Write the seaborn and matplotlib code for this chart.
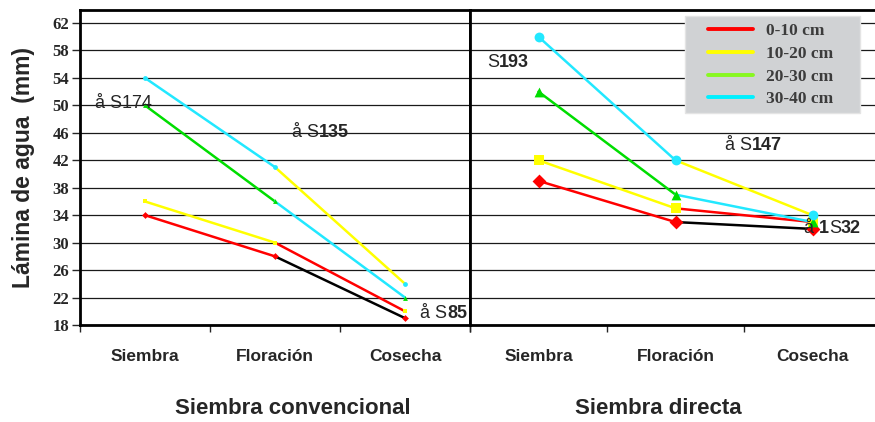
import matplotlib
matplotlib.use("Agg")
import matplotlib.pyplot as plt
from matplotlib.lines import Line2D
from matplotlib.patches import Rectangle
import pandas as pd
import seaborn as sns

stages = ["Siembra", "Floración", "Cosecha"]
depths = ["0-10 cm", "10-20 cm", "20-30 cm", "30-40 cm"]
panels = ["Siembra convencional", "Siembra directa"]

# lámina de agua (mm) por profundidad
conv_0_10 = [34, 28, 19]
conv_10_20 = [36, 30, 20]
conv_20_30 = [50, 36, 22]
conv_30_40 = [54, 41, 24]

dir_0_10 = [39, 33, 32]
dir_10_20 = [42, 35, 33]
dir_20_30 = [52, 37, 33]
dir_30_40 = [60, 42, 34]

sns.set_style("white")
plt.rcParams["font.family"] = ["Liberation Sans", "DejaVu Sans"]

seg1_colors = ["#ff0000", "#ffff00", "#00dd00", "#22e8ff"]
seg2_colors = ["#000000", "#ff0000", "#22e8ff", "#ffff00"]
legend_colors = ["#ff0000", "#ffff00", "#88f820", "#00f0ff"]
markers = ["D", "s", "^", "o"]

series = {
    panels[0]: [conv_0_10, conv_10_20, conv_20_30, conv_30_40],
    panels[1]: [dir_0_10, dir_10_20, dir_20_30, dir_30_40],
}

rows = []
for panel, vals in series.items():
    for d, v in zip(depths, vals):
        for i in range(3):
            if i < 2:
                rows.append((panel, d + " a", i, v[i]))
            if i > 0:
                rows.append((panel, d + " b", i, v[i]))
df = pd.DataFrame(rows, columns=["panel", "seg", "pos", "value"])

palette = {}
for k, d in enumerate(depths):
    palette[d + " a"] = seg1_colors[k]
    palette[d + " b"] = seg2_colors[k]

fig = plt.figure(figsize=(8.75, 4.22), dpi=100)
W, H = 875, 422
bottom = 1 - 325 / H
height = (325 - 10) / H
ax1 = fig.add_axes([80 / W, bottom, 390 / W, height])
ax2 = fig.add_axes([470 / W, bottom, 411 / W, height])

for ax, panel, msize in [(ax1, panels[0], 12), (ax2, panels[1], 50)]:
    sub = df[df.panel == panel]
    sns.lineplot(data=sub, x="pos", y="value", hue="seg", palette=palette,
                 estimator=None, sort=False, legend=False, lw=1.8, ax=ax, zorder=3)
    for k, v in enumerate(series[panel]):
        sns.scatterplot(x=[0, 1, 2], y=v, marker=markers[k], color=seg1_colors[k],
                        s=msize, linewidth=0, ax=ax, zorder=4, legend=False)
    ax.set_xlim(-0.5, 2.5)
    ax.set_ylim(18, 63.9)
    ax.set_yticks(range(18, 63, 4))
    ax.set_xticks([-0.5, 0.5, 1.5, 2.5], labels=[""] * 4)
    ax.set_xticks([0, 1, 2], labels=stages, minor=True)
    ax.tick_params(axis="x", which="major", length=5, width=1, direction="out", bottom=True)
    ax.tick_params(axis="x", which="minor", length=0, pad=17)
    for lab in ax.get_xticklabels(minor=True):
        lab.set_fontweight("bold")
        lab.set_fontsize(12.5)
    ax.grid(axis="y", color="#1a1a1a", lw=0.9)
    ax.set_axisbelow(True)
    for sp in ax.spines.values():
        sp.set_linewidth(2)
        sp.set_color("black")
    ax.set_xlabel("")
    ax.set_ylabel("")

ax1.tick_params(axis="y", length=6, width=1, direction="out", left=True, pad=2)
for lab in ax1.get_yticklabels():
    lab.set_family("Liberation Serif")
    lab.set_fontweight("bold")
    lab.set_fontsize(12)
ax2.tick_params(axis="y", left=False, labelleft=False)
ax1.set_ylabel("Lámina de agua  (mm)", fontsize=16.5, fontweight="bold", labelpad=12)


def label(ax, x, y, parts):
    prev = None
    for txt, bold in parts:
        kw = dict(fontsize=13, fontweight="bold" if bold else "normal", zorder=6)
        if prev is None:
            prev = ax.text(x, y, txt, va="center", ha="left", **kw)
        else:
            prev = ax.annotate(txt, xy=(1, 0), xycoords=prev, va="bottom", ha="left", **kw)


label(ax1, -0.385, 50.3, [("å S174", False)])
label(ax1, 1.131, 46.1, [("å S", False), ("135", True)])
label(ax1, 2.115, 19.7, [("å S", False), ("85", True)])
label(ax2, -0.376, 56.2, [("S", False), ("193", True)])
label(ax2, 1.358, 44.1, [("å S", False), ("147", True)])
label(ax2, 1.938, 32.0, [("å ", False), ("1", True), ("S", False), ("32", True)])

# legend box
fig.patches.append(Rectangle((685 / W, 1 - 113 / H), 175 / W, 97 / H,
                             transform=fig.transFigure, facecolor="#d0d2d4",
                             edgecolor="#e4e4e4", lw=1, zorder=8))
handles = [Line2D([], [], color=c, lw=2.8) for c in legend_colors]
leg = fig.legend(handles, depths, loc="upper left", bbox_to_anchor=(708 / W, 1 - 23 / H),
                 frameon=False, handlelength=2.6, handletextpad=0.75, labelspacing=0.38,
                 borderpad=0, borderaxespad=0,
                 prop={"family": "Liberation Serif", "weight": "bold", "size": 12.5})
leg.set_zorder(10)
for t in leg.get_texts():
    t.set_color("#3c3c3c")

fig.text(293 / W, 1 - 408 / H, panels[0], ha="center", va="center",
         fontsize=16, fontweight="bold")
fig.text(658 / W, 1 - 408 / H, panels[1], ha="center", va="center",
         fontsize=16, fontweight="bold")

fig.savefig("out.png", dpi=100)
